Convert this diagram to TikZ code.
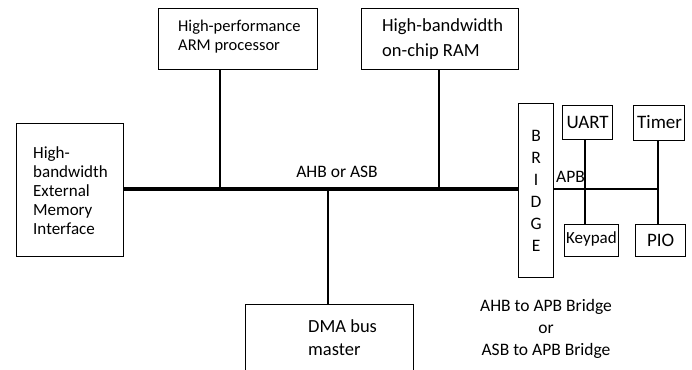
\documentclass[tikz,border=0pt]{standalone}
\usepackage{fontspec}
\setmainfont{Carlito}
\begin{document}
\begin{tikzpicture}[x=1pt,y=-1pt,
  box/.style={draw,line width=1.2pt,inner sep=0pt,font=\fontsize{17}{19}\selectfont},
  lbl/.style={inner sep=0pt,font=\fontsize{17.5}{19}\selectfont},
  conn/.style={line width=2pt},
  bus/.style={line width=4.5pt}]
\useasboundingbox (0,0) rectangle (692,369);
% boxes
\node[box,anchor=north west,minimum width=107pt,minimum height=133pt] (ext) at (16,123) {};
\node[lbl,anchor=north west,align=left,font=\fontsize{17}{19}\selectfont] (extt) at (33,146) {High-\\bandwidth\\External\\Memory\\Interface};
\node[box,anchor=north west,minimum width=159pt,minimum height=61pt] (arm) at (158,8) {};
\node[lbl,anchor=north west,align=left,font=\fontsize{16.5}{19}\selectfont] (armt) at (178,20) {High-performance\\ARM processor};
\node[box,anchor=north west,minimum width=157pt,minimum height=61pt] (ram) at (361,8) {};
\node[lbl,anchor=north west,align=left,font=\fontsize{18.5}{25}\selectfont] (ramt) at (382,18) {High-bandwidth\\on-chip RAM};
\node[box,anchor=north west,minimum width=35pt,minimum height=174pt,text width=12pt,align=center,font=\fontsize{17.5}{22}\selectfont] (bridge) at (518,103) {B\\R\\I\\D\\G\\E};
\node[box,anchor=north west,minimum width=50pt,minimum height=34pt,align=center,font=\fontsize{19}{19}\selectfont] (uart) at (562,105) {UART};
\node[box,anchor=north west,minimum width=51pt,minimum height=35pt] (timer) at (633,105) {};
\node[lbl,anchor=west,font=\fontsize{19}{19}\selectfont] (timert) at (637,122.5) {Timer};
\node[box,anchor=north west,minimum width=54pt,minimum height=32pt] (keypad) at (564,224) {};
\node[lbl,anchor=west,font=\fontsize{17}{19}\selectfont] (keypadt) at (566,239) {Keypad};
\node[box,anchor=north west,minimum width=50pt,minimum height=32pt,align=center,font=\fontsize{19}{19}\selectfont] (pio) at (635,224) {PIO};
\node[box,anchor=north west,minimum width=168pt,minimum height=80pt] (dma) at (245,304) {};
\node[lbl,anchor=north west,align=left,font=\fontsize{18.5}{23}\selectfont] (dmat) at (308,319) {DMA bus\\master};
% junction coordinates
\coordinate (busL) at (123,189);
\coordinate (busR) at (518,189);
\coordinate (jarm) at (220,189);
\coordinate (jram) at (439,189);
\coordinate (jdma) at (328,189);
\coordinate (apbL) at (553,189);
\coordinate (apbR) at (658,189);
\coordinate (juart) at (585,189);
% bus
\draw[bus] (busL) -- (busR);
\draw[conn] (arm.south -| jarm) -- (jarm);
\draw[conn] (ram.south -| jram) -- (jram);
\draw[conn] (jdma) -- (dma.north -| jdma);
% APB
\draw[line width=2pt] (apbL) -- (apbR);
\draw[conn] (uart.south -| juart) -- (keypad.north -| juart);
\draw[conn] (timer.south -| apbR) -- (pio.north -| apbR);
% labels
\node[lbl] (ahb) at (337,172) {AHB or ASB};
\node[lbl,anchor=west] (apb) at (556,177) {APB};
\node[lbl,align=center,font=\fontsize{17.5}{22}\selectfont] (cap) at (546,329) {AHB to APB Bridge\\or\\ASB to APB Bridge};
\end{tikzpicture}
\end{document}
